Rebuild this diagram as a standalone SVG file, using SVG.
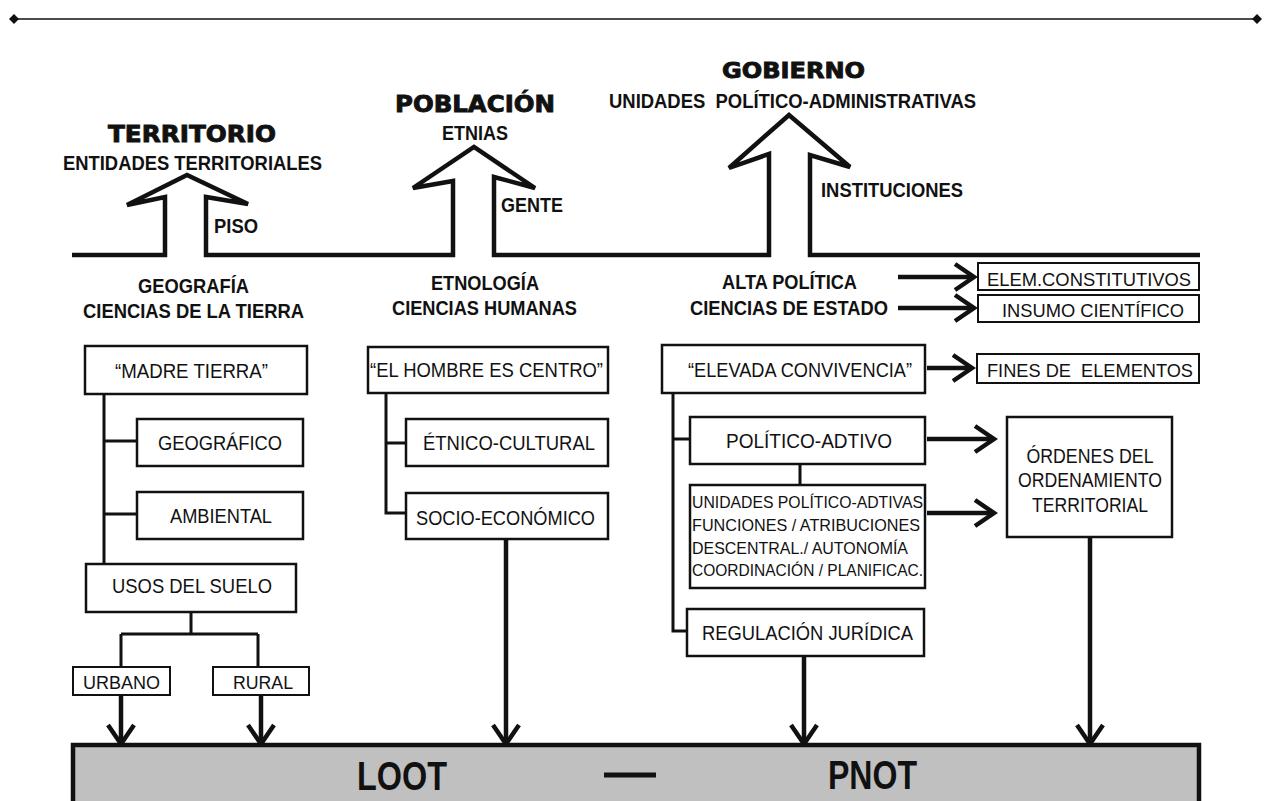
<svg xmlns="http://www.w3.org/2000/svg" width="1265" height="801" viewBox="0 0 1265 801">
<defs>
<marker id="chev" markerUnits="userSpaceOnUse" markerWidth="40" markerHeight="40" viewBox="-30 -20 40 40" refX="0" refY="0" orient="auto" overflow="visible">
<path d="M-19,-13 L0,0 L-19,13" fill="none" stroke="#111" stroke-width="4.5" stroke-linejoin="miter"/>
</marker>
<marker id="dia" markerUnits="userSpaceOnUse" markerWidth="12" markerHeight="12" viewBox="-6 -6 12 12" refX="0" refY="0" overflow="visible">
<path d="M-5,0 L0,-5 L5,0 L0,5 Z" fill="#111"/>
</marker>
</defs>
<style>
.box{fill:#fff;stroke:#111;stroke-width:2.5}
.box2{fill:#fff;stroke:#111;stroke-width:2}
.con{fill:none;stroke:#111;stroke-width:3}
.arr{fill:none;stroke:#111;stroke-width:4.5;marker-end:url(#chev)}
.heavy{font-family:"DejaVu Sans",sans-serif;font-weight:bold;fill:#111;stroke:#111;stroke-width:0.9}
.bn{font-family:"Liberation Sans",Arial,sans-serif;font-weight:bold;fill:#111}
.nn{font-family:"Liberation Sans",Arial,sans-serif;fill:#111}
.s20{font-size:20px}
.s19{font-size:19px}
.s18{font-size:18px}
.s17{font-size:17px}
.s40{font-size:41px}
</style>
<rect width="1265" height="801" fill="#fff"/>

<g id="topline">
<line x1="14" y1="19" x2="1257" y2="19" stroke="#111" stroke-width="1.6" marker-start="url(#dia)" marker-end="url(#dia)"/>
</g>

<g id="ground">
<path d="M72,255 H165 V197 L127,205 L187,175 L248,204 L206,197 V255 H453 V181 L413,188 L474,147 L535,188 L494,177 V255 H769 V154 L729,168 L789,115 L850,167 L810,155 V255 H1200" fill="none" stroke="#111" stroke-width="4.5" stroke-linejoin="miter"/>
</g>

<g id="headings">
<text class="heavy" x="108" y="142" font-size="23" textLength="168" lengthAdjust="spacingAndGlyphs">TERRITORIO</text>
<text class="bn s20" x="63" y="170" textLength="259" lengthAdjust="spacingAndGlyphs">ENTIDADES TERRITORIALES</text>
<text class="bn s20" x="214" y="233" textLength="44" lengthAdjust="spacingAndGlyphs">PISO</text>
<text class="heavy" x="395" y="112" font-size="23" textLength="160" lengthAdjust="spacingAndGlyphs">POBLACIÓN</text>
<text class="bn s20" x="442" y="140" textLength="66" lengthAdjust="spacingAndGlyphs">ETNIAS</text>
<text class="bn s20" x="501" y="212" textLength="62" lengthAdjust="spacingAndGlyphs">GENTE</text>
<text class="heavy" x="722" y="78" font-size="22" textLength="143" lengthAdjust="spacingAndGlyphs">GOBIERNO</text>
<text class="bn s20" x="609" y="108" textLength="367" lengthAdjust="spacingAndGlyphs" xml:space="preserve">UNIDADES  POLÍTICO-ADMINISTRATIVAS</text>
<text class="bn s20" x="821" y="197" textLength="142" lengthAdjust="spacingAndGlyphs">INSTITUCIONES</text>
<text class="bn s20" x="138" y="293" textLength="111" lengthAdjust="spacingAndGlyphs">GEOGRAFÍA</text>
<text class="bn s20" x="83" y="318" textLength="221" lengthAdjust="spacingAndGlyphs">CIENCIAS DE LA TIERRA</text>
<text class="bn s20" x="431" y="290" textLength="108" lengthAdjust="spacingAndGlyphs">ETNOLOGÍA</text>
<text class="bn s20" x="392" y="315" textLength="185" lengthAdjust="spacingAndGlyphs">CIENCIAS HUMANAS</text>
<text class="bn s20" x="722" y="289" textLength="135" lengthAdjust="spacingAndGlyphs">ALTA POLÍTICA</text>
<text class="bn s20" x="690" y="315" textLength="198" lengthAdjust="spacingAndGlyphs">CIENCIAS DE ESTADO</text>
</g>

<g id="connectors">
<path class="con" d="M104,394 V564 M104,441 H137 M104,514 H137"/>
<path class="con" d="M191,612 V634 M121,634 H258 M121,634 V667 M258,634 V667"/>
<path class="con" d="M386,393 V513 H406 M386,443 H406"/>
<path class="con" d="M673,393 V631 H687 M673,439 H690 M800,464 V485"/>
<line class="arr" x1="121" y1="695" x2="121" y2="744"/>
<line class="arr" x1="261" y1="695" x2="261" y2="744"/>
<line class="arr" x1="506" y1="539" x2="506" y2="744"/>
<line class="arr" x1="804" y1="656" x2="804" y2="744"/>
<line class="arr" x1="1090" y1="537" x2="1090" y2="744"/>
<line class="arr" x1="898" y1="277" x2="974" y2="277"/>
<line class="arr" x1="898" y1="308" x2="974" y2="308"/>
<line class="arr" x1="927" y1="368" x2="972" y2="368"/>
<line class="arr" x1="927" y1="439" x2="994" y2="439"/>
<line class="arr" x1="927" y1="513" x2="994" y2="513"/>
</g>

<g id="madre-tierra"><rect class="box" x="85" y="346" width="222" height="48"/><text class="nn s20" x="115" y="378" textLength="153" lengthAdjust="spacingAndGlyphs">“MADRE TIERRA”</text></g>
<g id="geografico"><rect class="box" x="137" y="419" width="166" height="47"/><text class="nn s20" x="158" y="450" textLength="124" lengthAdjust="spacingAndGlyphs">GEOGRÁFICO</text></g>
<g id="ambiental"><rect class="box" x="137" y="492" width="166" height="47"/><text class="nn s20" x="170" y="523" textLength="102" lengthAdjust="spacingAndGlyphs">AMBIENTAL</text></g>
<g id="usos"><rect class="box" x="86" y="564" width="210" height="48"/><text class="nn s20" x="112" y="593" textLength="160" lengthAdjust="spacingAndGlyphs">USOS DEL SUELO</text></g>
<g id="urbano"><rect class="box2" x="73" y="667" width="97" height="28"/><text class="nn s18" x="83" y="689" textLength="77" lengthAdjust="spacingAndGlyphs">URBANO</text></g>
<g id="rural"><rect class="box2" x="213" y="667" width="96" height="28"/><text class="nn s18" x="233" y="689" textLength="60" lengthAdjust="spacingAndGlyphs">RURAL</text></g>

<g id="hombre"><rect class="box" x="368" y="347" width="240" height="46"/><text class="nn s20" x="370" y="377" textLength="233" lengthAdjust="spacingAndGlyphs">“EL HOMBRE ES CENTRO”</text></g>
<g id="etnico"><rect class="box" x="406" y="419" width="202" height="47"/><text class="nn s20" x="423" y="450" textLength="172" lengthAdjust="spacingAndGlyphs">ÉTNICO-CULTURAL</text></g>
<g id="socio"><rect class="box" x="406" y="493" width="202" height="46"/><text class="nn s20" x="416" y="525" textLength="179" lengthAdjust="spacingAndGlyphs">SOCIO-ECONÓMICO</text></g>

<g id="elevada"><rect class="box" x="662" y="345" width="263" height="48"/><text class="nn s20" x="688" y="377" textLength="224" lengthAdjust="spacingAndGlyphs">“ELEVADA CONVIVENCIA”</text></g>
<g id="politico"><rect class="box" x="690" y="417" width="235" height="47"/><text class="nn s20" x="726" y="448" textLength="166" lengthAdjust="spacingAndGlyphs">POLÍTICO-ADTIVO</text></g>
<g id="unidades"><rect class="box" x="690" y="485" width="235" height="103"/>
<text class="nn s17" x="692" y="508" textLength="231" lengthAdjust="spacingAndGlyphs">UNIDADES POLÍTICO-ADTIVAS</text>
<text class="nn s17" x="692" y="531" textLength="228" lengthAdjust="spacingAndGlyphs">FUNCIONES / ATRIBUCIONES</text>
<text class="nn s17" x="692" y="554" textLength="216" lengthAdjust="spacingAndGlyphs">DESCENTRAL./ AUTONOMÍA</text>
<text class="nn s17" x="692" y="576" textLength="231" lengthAdjust="spacingAndGlyphs">COORDINACIÓN / PLANIFICAC.</text></g>
<g id="regulacion"><rect class="box" x="687" y="609" width="237" height="47"/><text class="nn s20" x="702" y="640" textLength="211" lengthAdjust="spacingAndGlyphs">REGULACIÓN JURÍDICA</text></g>

<g id="elem"><rect class="box2" x="978" y="263" width="221" height="27"/><text class="nn s19" x="987" y="286" textLength="204" lengthAdjust="spacingAndGlyphs">ELEM.CONSTITUTIVOS</text></g>
<g id="insumo"><rect class="box2" x="978" y="295" width="221" height="27"/><text class="nn s19" x="1002" y="317" textLength="182" lengthAdjust="spacingAndGlyphs">INSUMO CIENTÍFICO</text></g>
<g id="fines"><rect class="box2" x="977" y="354" width="222" height="29"/><text class="nn s19" x="987" y="377" textLength="206" lengthAdjust="spacingAndGlyphs" xml:space="preserve">FINES DE  ELEMENTOS</text></g>
<g id="ordenes"><rect class="box" x="1007" y="417" width="165" height="120"/>
<text class="nn s20" x="1090" y="463" text-anchor="middle" textLength="127" lengthAdjust="spacingAndGlyphs">ÓRDENES DEL</text>
<text class="nn s20" x="1090" y="487" text-anchor="middle" textLength="144" lengthAdjust="spacingAndGlyphs">ORDENAMIENTO</text>
<text class="nn s20" x="1090" y="512" text-anchor="middle" textLength="116" lengthAdjust="spacingAndGlyphs">TERRITORIAL</text></g>

<g id="loot-pnot">
<rect x="73" y="745" width="1126" height="80" fill="#c0c0c0" stroke="#111" stroke-width="4.5"/>
<text class="bn s40" x="357" y="790" textLength="90" lengthAdjust="spacingAndGlyphs">LOOT</text>
<line x1="604" y1="775" x2="656" y2="775" stroke="#111" stroke-width="5"/>
<text class="bn s40" x="828" y="789" textLength="89" lengthAdjust="spacingAndGlyphs">PNOT</text>
</g>
</svg>
